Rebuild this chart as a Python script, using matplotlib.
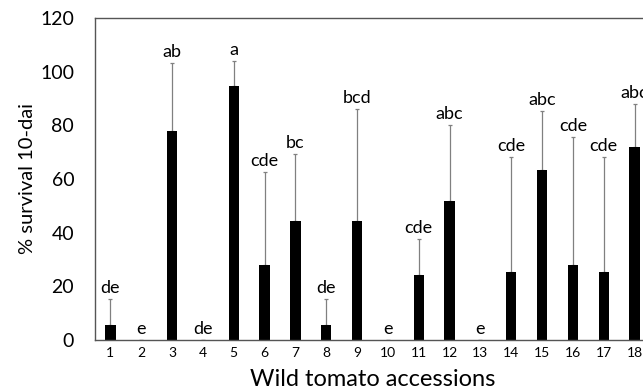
import matplotlib.pyplot as plt

# Data
accessions = [str(i) for i in range(1, 19)]
survival = [5.6, 0, 77.9, 0, 94.5, 28.0, 44.4, 5.6, 44.4, 0, 24.4, 51.9, 0, 25.2, 63.5, 28.0, 25.2, 71.9]
err_upper = [9.7, 0, 25.5, 0, 9.5, 34.6, 25.0, 9.7, 41.8, 0, 13.4, 28.2, 0, 43.1, 21.8, 47.8, 43.1, 16.1]
letters = ['de', 'e', 'ab', 'de', 'a', 'cde', 'bc', 'de', 'bcd', 'e', 'cde', 'abc', 'e',
           'cde', 'abc', 'cde', 'cde', 'abc']

plt.rcParams['font.family'] = ['Lato', 'DejaVu Sans']

fig = plt.figure(figsize=(6.43, 3.91), dpi=100)
ax = fig.add_axes([95 / 643, 51 / 391, 555 / 643, 322 / 391])

x = list(range(1, len(accessions) + 1))
ax.bar(x, survival, width=0.33, color='black', zorder=2)
ax.errorbar(x, survival, yerr=[[0] * len(x), err_upper], fmt='none',
            ecolor='#808080', elinewidth=0.9, capsize=1.6, capthick=0.9, zorder=1)

for xi, v, e, lab in zip(x, survival, err_upper, letters):
    ax.annotate(lab, (xi, v + e), xytext=(0, 2), textcoords='offset points',
                ha='center', va='bottom', fontsize=13)

ax.set_xlim(0.5, 18.5)
ax.set_ylim(0, 120)
ax.set_yticks(range(0, 121, 20))
ax.set_xticks(x)
ax.set_xticklabels(accessions, fontsize=10)
ax.tick_params(axis='y', labelsize=14, length=0, pad=15)
ax.tick_params(axis='x', length=0, pad=5)

for side in ['left', 'bottom', 'top']:
    ax.spines[side].set_color('#555555')
    ax.spines[side].set_linewidth(1.0)
ax.spines['right'].set_visible(False)

ax.set_xlabel('Wild tomato accessions', fontsize=17, labelpad=7)
ax.set_ylabel('% survival 10-dai', fontsize=14.5)
ax.yaxis.set_label_coords(-0.107, 0.5)

fig.savefig('out.png', dpi=100)
